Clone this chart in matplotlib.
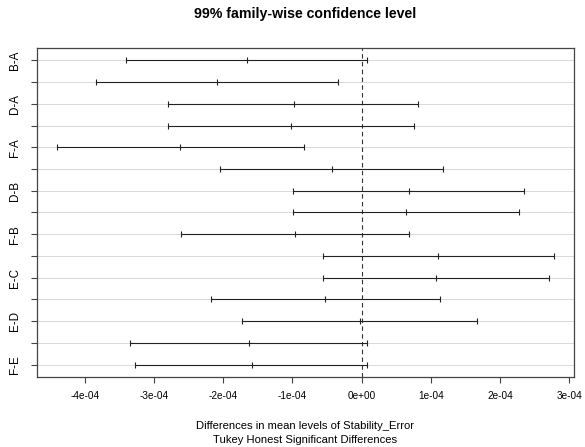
import numpy as np
import matplotlib.pyplot as plt

plt.rcParams['font.family'] = ['Liberation Sans', 'DejaVu Sans']

# Tukey HSD comparisons (diff, lower, upper)
comparisons = ['B-A', 'C-A', 'D-A', 'E-A', 'F-A', 'C-B', 'D-B', 'E-B',
               'F-B', 'D-C', 'E-C', 'F-C', 'E-D', 'F-D', 'F-E']
diff = [-1.662e-4, -2.095e-4, -0.983e-4, -1.020e-4, -2.630e-4, -0.433e-4,
        0.679e-4, 0.636e-4, -0.968e-4, 1.108e-4, 1.075e-4, -0.525e-4,
        -0.029e-4, -1.633e-4, -1.590e-4]
lwr = [-3.410e-4, -3.844e-4, -2.798e-4, -2.798e-4, -4.408e-4, -2.042e-4,
       -0.997e-4, -0.997e-4, -2.610e-4, -0.558e-4, -0.558e-4, -2.182e-4,
       -1.734e-4, -3.342e-4, -3.280e-4]
upr = [0.082e-4, -0.341e-4, 0.815e-4, 0.751e-4, -0.838e-4, 1.171e-4,
       2.347e-4, 2.269e-4, 0.689e-4, 2.785e-4, 2.712e-4, 1.133e-4,
       1.668e-4, 0.082e-4, 0.082e-4]
xticks = [-4e-4, -3e-4, -2e-4, -1e-4, 0, 1e-4, 2e-4, 3e-4]
xtick_labels = ['-4e-04', '-3e-04', '-2e-04', '-1e-04', '0e+00', '1e-04', '2e-04', '3e-04']

n = len(comparisons)
yvals = np.arange(n, 0, -1)

fig = plt.figure(figsize=(5.85, 4.47), dpi=100)
ax = fig.add_axes([0.0627, 0.1573, 0.919, 0.7347])

# light horizontal guides at every comparison
for y in yvals:
    ax.axhline(y, color='#d9d9d9', lw=0.7, zorder=1)

ax.axvline(0, color='#333333', lw=0.8, ls=(0, (4, 3)), zorder=2)

ax.hlines(yvals, lwr, upr, color='#222222', lw=0.8, zorder=3)
ax.plot(lwr, yvals, ls='none', marker='|', ms=4, mew=0.8, color='#222222', zorder=3)
ax.plot(upr, yvals, ls='none', marker='|', ms=4, mew=0.8, color='#222222', zorder=3)
ax.plot(diff, yvals, ls='none', marker='|', ms=4, mew=0.8, color='#222222', zorder=3)

lo, hi = min(lwr), max(upr)
pad = (hi - lo) * 0.04
ax.set_xlim(lo - pad, hi + pad)
ax.set_ylim(0.44, n + 0.56)

ax.set_xticks(xticks)
ax.set_xticklabels(xtick_labels, fontsize=7.2)
ax.set_yticks(yvals)
ax.set_yticklabels([c if i % 2 == 0 else '' for i, c in enumerate(comparisons)],
                   rotation=90, va='center', fontsize=8.4)
ax.tick_params(axis='both', length=4, width=0.8, color='#444444', pad=6)
ax.tick_params(axis='y', pad=7)

for s in ax.spines.values():
    s.set_color('#444444')
    s.set_linewidth(0.9)

cx = 0.5222
fig.text(cx, 0.968, '99% family-wise confidence level', ha='center', va='center',
         fontsize=10.2, fontweight='bold')
fig.text(cx, 0.047, 'Differences in mean levels of Stability_Error', ha='center',
         va='center', fontsize=8.1)
fig.text(cx, 0.0157, 'Tukey Honest Significant Differences', ha='center',
         va='center', fontsize=8.1)

fig.savefig('out.png', dpi=100)
